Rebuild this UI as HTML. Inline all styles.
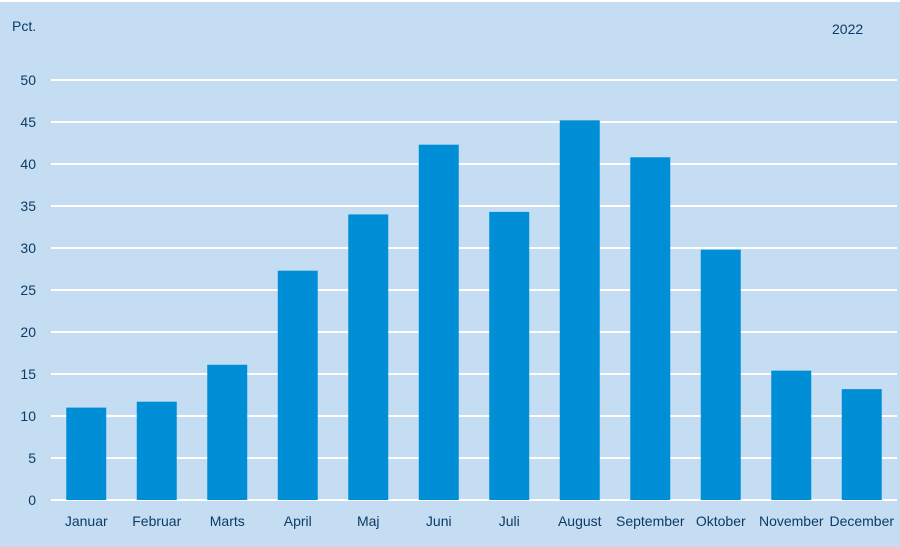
<!DOCTYPE html>
<html><head><meta charset="utf-8"><style>
body{margin:0;background:#fff}
svg{display:block}
text{font-family:"Liberation Sans",sans-serif;fill:#0d3b66;font-size:14px}
</style></head><body>
<svg width="900" height="547">
<rect x="0" y="2" width="900" height="545" fill="#c5ddf2"/>
<text x="12" y="31">Pct.</text>
<text x="832" y="34">2022</text>
<g id="grid"></g><g id="bars"></g><g id="labels"></g>
</svg>
<script>
const months=["Januar","Februar","Marts","April","Maj","Juni","Juli","August","September","Oktober","November","December"];
const values=[11,11.7,16.1,27.3,34,42.3,34.3,45.2,40.8,29.8,15.4,13.2];
const ticks=[0,5,10,15,20,25,30,35,40,45,50];
const NS="http://www.w3.org/2000/svg";
const x0=51,x1=897,y0=500,yTop=80,yMax=50;
const y=v=>y0-(y0-yTop)*v/yMax;
const band=(x1-x0)/months.length;
const bx=i=>x0+band*i+band/2;
const g=document.getElementById('grid'),b=document.getElementById('bars'),l=document.getElementById('labels');
ticks.forEach(t=>{
 const ln=document.createElementNS(NS,'line');
 
 
 ln.setAttribute('x1',x0);ln.setAttribute('x2',x1);ln.setAttribute('y1',y(t));ln.setAttribute('y2',y(t));
 ln.setAttribute('stroke','#fff');ln.setAttribute('stroke-width','2');g.appendChild(ln);
 const tx=document.createElementNS(NS,'text');
 
 
 tx.setAttribute('x',36);tx.setAttribute('y',y(t)+5);tx.setAttribute('text-anchor','end');tx.textContent=t;l.appendChild(tx);
});
values.forEach((v,i)=>{
 const r=document.createElementNS(NS,'rect');
 
 
 r.setAttribute('x',bx(i)-20);r.setAttribute('width',40);r.setAttribute('y',y(v));r.setAttribute('height',y0-y(v));
 r.setAttribute('fill','#008fd6');b.appendChild(r);
 const tx=document.createElementNS(NS,'text');
 
 
 tx.setAttribute('x',bx(i));tx.setAttribute('y',526);tx.setAttribute('text-anchor','middle');tx.textContent=months[i];l.appendChild(tx);
});
</script>
</body></html>
